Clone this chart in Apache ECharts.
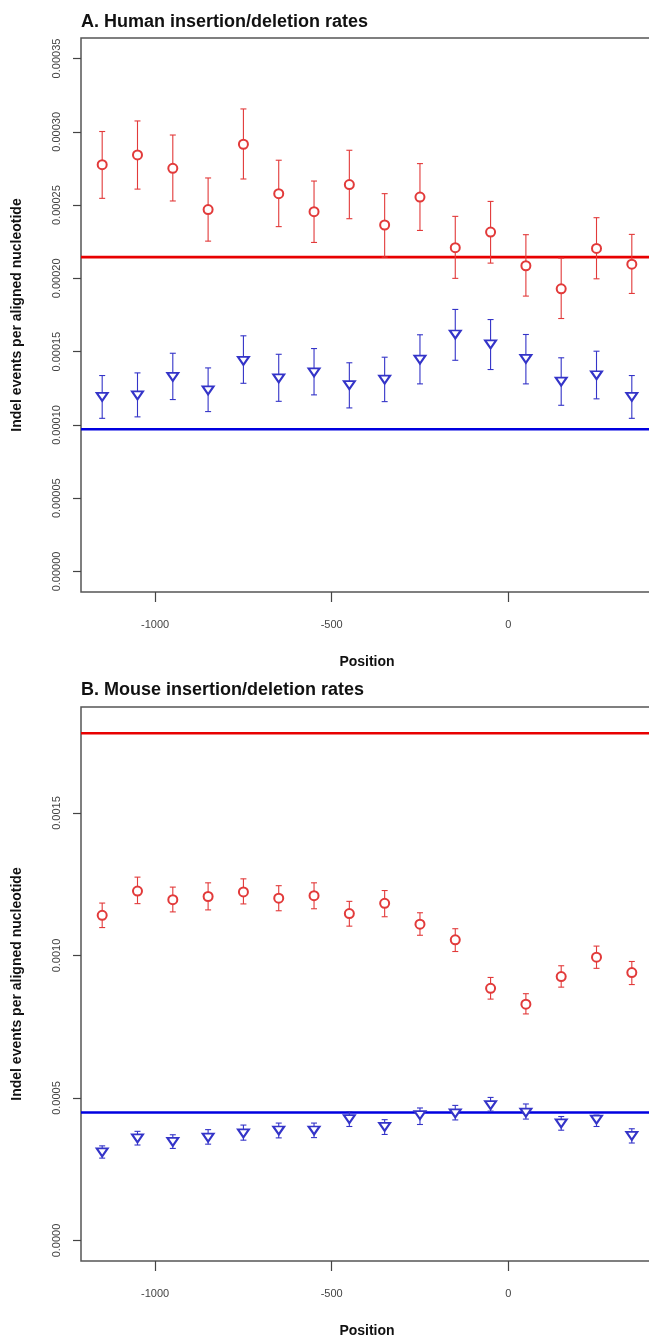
<!DOCTYPE html>
<html>
<head>
<meta charset="utf-8">
<script src="https://cdn.jsdelivr.net/npm/echarts@6/dist/echarts.min.js"></script>
<style>
html,body{margin:0;padding:0;background:#fff;}
#chart{width:649px;height:1336px;}
</style>
</head>
<body>
<div id="chart"></div>
<script>
// ---------- data ----------
var positions = [-1150,-1050,-950,-850,-750,-650,-550,-450,-350,-250,-150,-50,50,150,250,350];

// Panel A: human (red circles / blue triangles)
var humanRed     = [0.0002776,0.0002842,0.0002751,0.0002469,0.0002915,0.0002578,0.0002455,0.0002640,0.0002364,0.0002555,0.0002209,0.0002316,0.0002086,0.0001929,0.0002204,0.0002097];
var humanRedLow  = [0.0002546,0.0002609,0.0002528,0.0002254,0.0002678,0.0002353,0.0002245,0.0002407,0.0002145,0.0002327,0.0002000,0.0002104,0.0001879,0.0001726,0.0001997,0.0001897];
var humanRedHigh = [0.0003002,0.0003074,0.0002978,0.0002685,0.0003156,0.0002806,0.0002664,0.0002874,0.0002578,0.0002783,0.0002423,0.0002525,0.0002298,0.0002138,0.0002414,0.0002300];
var humanBlue     = [0.0001191,0.0001202,0.0001328,0.0001236,0.0001437,0.0001318,0.0001359,0.0001271,0.0001309,0.0001446,0.0001617,0.0001549,0.0001451,0.0001296,0.0001339,0.0001191];
var humanBlueLow  = [0.0001045,0.0001055,0.0001173,0.0001091,0.0001284,0.0001161,0.0001205,0.0001116,0.0001159,0.0001280,0.0001441,0.0001378,0.0001280,0.0001134,0.0001178,0.0001045];
var humanBlueHigh = [0.0001337,0.0001355,0.0001489,0.0001389,0.0001608,0.0001482,0.0001521,0.0001424,0.0001462,0.0001615,0.0001788,0.0001719,0.0001617,0.0001458,0.0001503,0.0001337];
var humanRedRef  = 0.0002145;
var humanBlueRef = 0.000097;

// Panel B: mouse
var mouseRed     = [0.001141,0.001226,0.001196,0.001207,0.001223,0.001201,0.001210,0.001147,0.001183,0.001110,0.001055,0.000885,0.000829,0.000926,0.000994,0.000940];
var mouseRedLow  = [0.001098,0.001182,0.001153,0.001160,0.001181,0.001157,0.001164,0.001103,0.001136,0.001071,0.001014,0.000847,0.000795,0.000889,0.000955,0.000898];
var mouseRedHigh = [0.001184,0.001275,0.001240,0.001255,0.001269,0.001245,0.001255,0.001190,0.001228,0.001150,0.001094,0.000923,0.000866,0.000964,0.001033,0.000979];
var mouseBlue     = [0.000309,0.000358,0.000346,0.000361,0.000376,0.000386,0.000386,0.000426,0.000399,0.000440,0.000446,0.000475,0.000449,0.000411,0.000424,0.000367];
var mouseBlueLow  = [0.000289,0.000335,0.000323,0.000338,0.000352,0.000360,0.000361,0.000400,0.000372,0.000407,0.000423,0.000454,0.000426,0.000387,0.000400,0.000342];
var mouseBlueHigh = [0.000332,0.000383,0.000371,0.000389,0.000405,0.000412,0.000412,0.000452,0.000424,0.000465,0.000474,0.000502,0.000479,0.000435,0.000440,0.000392];
var mouseRedRef  = 0.00178;
var mouseBlueRef = 0.000449;

// tick labels
var xTicks = [-1000,-500,0];
var yTicksA = [0,0.00005,0.0001,0.00015,0.0002,0.00025,0.0003,0.00035];
var yTicksB = [0,0.0005,0.001,0.0015];
var yTickTextA = ['0.00000','0.00005','0.00010','0.00015','0.00020','0.00025','0.00030','0.00035'];
var yTickTextB = ['0.0000','0.0005','0.0010','0.0015'];

var titles = ['A. Human insertion/deletion rates','B. Mouse insertion/deletion rates'];
var xName = 'Position';
var yName = 'Indel events per aligned nucleotide';

// ---------- styles ----------
var FONT = '"Liberation Sans", Arial, Helvetica, sans-serif';
var RED = '#e23a3a', BLUE = '#3434c8';
var RED_LINE = '#e80000', BLUE_LINE = '#0000e0';

function pts(ys){ return positions.map(function(x,i){ return [x, ys[i]]; }); }
function bars(lo, hi){ return positions.map(function(x,i){ return [x, lo[i], hi[i]]; }); }

function errSeries(idx, lo, hi, color){
  return {
    type:'custom', xAxisIndex:idx, yAxisIndex:idx, z:3,
    data: bars(lo, hi),
    encode:{x:0, y:[1,2]},
    renderItem: function(params, api){
      var p1 = api.coord([api.value(0), api.value(1)]);
      var p2 = api.coord([api.value(0), api.value(2)]);
      var c = 3;
      var st = {stroke:color, lineWidth:1.1};
      return {type:'group', children:[
        {type:'line', shape:{x1:p1[0],y1:p1[1],x2:p2[0],y2:p2[1]}, style:st},
        {type:'line', shape:{x1:p1[0]-c,y1:p1[1],x2:p1[0]+c,y2:p1[1]}, style:st},
        {type:'line', shape:{x1:p2[0]-c,y1:p2[1],x2:p2[0]+c,y2:p2[1]}, style:st}
      ]};
    }
  };
}
// horizontal reference line spanning the whole plot area, y from the axis scale
function refSeries(idx, v, color){
  return {
    type:'custom', xAxisIndex:idx, yAxisIndex:idx, z:2, silent:true,
    data:[[positions[0], v]],
    encode:{x:0, y:1},
    renderItem: function(params, api){
      var cs = params.coordSys;
      var y = api.coord([api.value(0), api.value(1)])[1];
      return {type:'line', shape:{x1:cs.x, y1:y, x2:cs.x+cs.width, y2:y},
        style:{stroke:color, lineWidth:2.6}};
    }
  };
}
function pointSeries(idx, ys, symbol, size, rotate, color){
  return {
    type:'scatter', xAxisIndex:idx, yAxisIndex:idx, z:4, data:pts(ys),
    symbol:symbol, symbolSize:size, symbolRotate:rotate,
    itemStyle:{color:color, borderColor:color, borderWidth:1, opacity:1}
  };
}

function xAxis(idx){
  return {
    type:'value', gridIndex:idx, min:-1210, max:410,
    name:xName, nameLocation:'middle', nameGap:63,
    nameTextStyle:{fontFamily:FONT, fontWeight:'bold', fontSize:14, color:'#111'},
    axisLine:{show:false, onZero:false}, splitLine:{show:false},
    axisTick:{show:true, length:10, customValues:xTicks, lineStyle:{color:'#444', width:1.2}},
    axisLabel:{customValues:xTicks, margin:27, fontFamily:FONT, fontSize:11, color:'#444',
      formatter:function(v){ return String(v); }}
  };
}
function yAxis(idx, min, max, ticks, texts){
  return {
    type:'value', gridIndex:idx, min:min, max:max,
    name:yName, nameLocation:'middle', nameGap:57, nameRotate:90,
    nameTextStyle:{fontFamily:FONT, fontWeight:'bold', fontSize:14, color:'#111'},
    axisLine:{show:false, onZero:false}, splitLine:{show:false},
    axisTick:{show:true, length:8, customValues:ticks, lineStyle:{color:'#444', width:1.2}},
    axisLabel:{customValues:ticks, rotate:90, margin:19, fontFamily:FONT, fontSize:11, color:'#444',
      formatter:function(v){ var i = ticks.findIndex(function(t){return Math.abs(t-v)<1e-12;}); return i>=0?texts[i]:''; }}
  };
}

var chart = echarts.init(document.getElementById('chart'), null, {renderer:'canvas'});
chart.setOption({
  animation:false,
  backgroundColor:'#fff',
  title:[
    {text:titles[0], left:76, top:8, textStyle:{fontFamily:FONT, fontWeight:'bold', fontSize:18, color:'#111'}},
    {text:titles[1], left:76, top:676, textStyle:{fontFamily:FONT, fontWeight:'bold', fontSize:18, color:'#111'}}
  ],
  grid:[
    {left:81, top:38, width:572, height:554, outerBoundsMode:'none', containLabel:false, show:true, borderColor:'#555', borderWidth:1.5, backgroundColor:'transparent'},
    {left:81, top:707, width:572, height:554, outerBoundsMode:'none', containLabel:false, show:true, borderColor:'#555', borderWidth:1.5, backgroundColor:'transparent'}
  ],
  xAxis:[xAxis(0), xAxis(1)],
  yAxis:[
    yAxis(0, -0.000014, 0.000364, yTicksA, yTickTextA),
    yAxis(1, -0.000072, 0.001872, yTicksB, yTickTextB)
  ],
  series:[
    refSeries(0, humanRedRef, RED_LINE),
    refSeries(0, humanBlueRef, BLUE_LINE),
    errSeries(0, humanRedLow, humanRedHigh, RED),
    errSeries(0, humanBlueLow, humanBlueHigh, BLUE),
    pointSeries(0, humanRed, 'emptyCircle', 9, 0, RED),
    pointSeries(0, humanBlue, 'emptyTriangle', [11,8], 180, BLUE),
    refSeries(1, mouseRedRef, RED_LINE),
    refSeries(1, mouseBlueRef, BLUE_LINE),
    errSeries(1, mouseRedLow, mouseRedHigh, RED),
    errSeries(1, mouseBlueLow, mouseBlueHigh, BLUE),
    pointSeries(1, mouseRed, 'emptyCircle', 9, 0, RED),
    pointSeries(1, mouseBlue, 'emptyTriangle', [11,8], 180, BLUE)
  ]
});
</script>
</body>
</html>
